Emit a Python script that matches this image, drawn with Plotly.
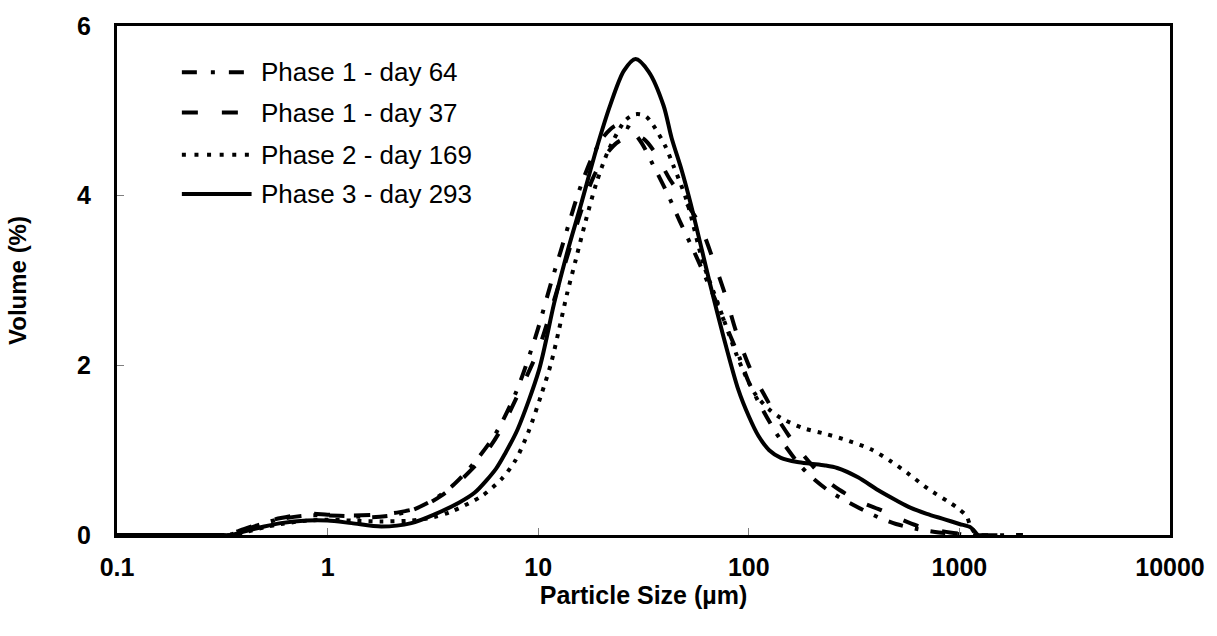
import plotly.graph_objects as go

# Particle size distributions (volume %, by size in µm)
size_p1_d64 = [0.1, 0.3, 0.35, 0.4, 0.5, 0.6, 0.8, 1.0, 1.3, 1.6, 2.0, 2.5, 3.2, 4.0, 5.0,
               6.3, 7.9, 9.75, 11.6, 12.8, 14.1, 15.6, 18, 20.5, 23.5, 27, 31, 35, 41, 47,
               55, 62, 70, 80, 90, 100, 118, 135, 148, 170, 195, 240, 290, 352, 420, 500,
               630, 800, 1000, 1100, 2000]
vol_p1_d64 = [0, 0, 0.01, 0.06, 0.14, 0.19, 0.23, 0.23, 0.22, 0.21, 0.23, 0.29, 0.42, 0.6, 0.86,
              1.2, 1.7, 2.35, 3.0, 3.35, 3.7, 4.05, 4.45, 4.7, 4.83, 4.8, 4.62, 4.37, 4.03, 3.7,
              3.34, 3.05, 2.75, 2.4, 2.1, 1.8, 1.45, 1.2, 1.06, 0.86, 0.70, 0.52, 0.40, 0.29, 0.2, 0.13,
              0.07, 0.03, 0.01, 0, 0]

size_p1_d37 = [0.1, 0.3, 0.35, 0.4, 0.5, 0.6, 0.8, 1.0, 1.3, 1.76, 2.2, 2.78, 3.5, 4.3, 5.3,
               6.5, 8, 10, 12, 14, 16, 18, 20.5, 23.5, 26.5, 29, 32, 36, 42, 50, 58.5, 67.6,
               78, 87, 102, 118, 135, 155, 174, 200, 230, 270, 340, 428, 500, 630, 900, 1200, 2000]
vol_p1_d37 = [0, 0, 0.02, 0.07, 0.15, 0.2, 0.25, 0.24, 0.23, 0.24, 0.27, 0.33, 0.47, 0.65, 0.88,
              1.2, 1.65, 2.18, 2.8, 3.35, 3.82, 4.18, 4.45, 4.62, 4.69, 4.71, 4.66, 4.5, 4.2, 3.93, 3.66, 3.25,
              2.8, 2.4, 1.95, 1.66, 1.4, 1.17, 1.0, 0.82, 0.66, 0.53, 0.39, 0.29, 0.21, 0.11, 0.03, 0, 0]

size_p2_d169 = [0.1, 0.3, 0.35, 0.4, 0.5, 0.6, 0.8, 1.0, 1.3, 1.8, 2.5, 3.2, 3.9, 5.4, 6.7,
                7.8, 9.0, 10.3, 11.5, 12.5, 13.7, 15.1, 16.8, 18.9, 21.6, 26, 29, 32.3, 35.2,
                40.2, 43.9, 50.6, 60.8, 71.6, 87, 96, 108, 125, 142, 181, 233, 298, 380, 472, 581,
                714, 889, 991, 1082, 1130, 1200]
vol_p2_d169 = [0, 0, 0.0, 0.03, 0.09, 0.13, 0.17, 0.18, 0.17, 0.16, 0.17, 0.21, 0.28, 0.46, 0.66,
               0.88, 1.22, 1.64, 2.02, 2.4, 2.84, 3.25, 3.7, 4.15, 4.54, 4.89, 4.96, 4.94, 4.83,
               4.58, 4.35, 3.95, 3.2, 2.72, 2.14, 1.89, 1.65, 1.48, 1.38, 1.26, 1.19, 1.11, 1.01, 0.87, 0.71,
               0.54, 0.39, 0.31, 0.22, 0.10, 0]

size_p3_d293 = [0.1, 0.3, 0.35, 0.4, 0.5, 0.6, 0.8, 1.0, 1.3, 1.8, 2.5, 3.2, 4.2, 5.0, 6.3, 7.0,
                8.0, 10.1, 11.9, 13.8, 15.9, 18.9, 22, 25.5, 29, 33.5, 39.4, 43, 48, 52.8, 60,
                65.6, 75.6, 89, 100, 111, 125, 142, 170, 197, 230, 263, 330, 410, 500, 588, 700,
                851, 1000, 1130, 1220]
vol_p3_d293 = [0, 0, 0.0, 0.04, 0.10, 0.14, 0.17, 0.17, 0.14, 0.10, 0.14, 0.24, 0.38, 0.50, 0.78, 0.97,
               1.25, 1.95, 2.73, 3.35, 3.88, 4.55, 5.07, 5.47, 5.61, 5.46, 5.06, 4.68, 4.3, 3.92, 3.35,
               2.95, 2.35, 1.72, 1.40, 1.17, 1.0, 0.91, 0.86, 0.84, 0.82, 0.79, 0.68, 0.53, 0.41, 0.32, 0.25,
               0.185, 0.13, 0.09, 0]

series_names = ["Phase 1 - day 64", "Phase 1 - day 37", "Phase 2 - day 169", "Phase 3 - day 293"]

x_tick_vals = [0.1, 1, 10, 100, 1000, 10000]
x_tick_text = ["0.1", "1", "10", "100", "1000", "10000"]
y_tick_vals = [0, 2, 4, 6]

FONT = "Liberation Sans, Arial, sans-serif"
dashes = ["15px,12px,4px,12px", "16px,24px", "4px,7px", "solid"]
legend_dashes = ["15px,14px,4px,14px", "16px,24px", "4px,8.6px", "solid"]

fig = go.Figure()
for name, xs, ys, dash in zip(series_names,
                              [size_p1_d64, size_p1_d37, size_p2_d169, size_p3_d293],
                              [vol_p1_d64, vol_p1_d37, vol_p2_d169, vol_p3_d293],
                              dashes):
    fig.add_trace(go.Scatter(
        x=xs, y=ys, name=name, mode="lines",
        line=dict(color="black", width=4, dash=dash, shape="spline", smoothing=0.8),
        showlegend=False,
    ))

# Hand-built legend in the upper-left corner of the plot
legend_rows_y = [0.909, 0.830, 0.747, 0.670]
shapes = []
annotations = []
for name, dash, yy in zip(series_names, legend_dashes, legend_rows_y):
    shapes.append(dict(type="line", xref="paper", yref="paper",
                       x0=0.0616, x1=0.1278, y0=yy, y1=yy,
                       line=dict(color="black", width=4, dash=dash)))
    annotations.append(dict(xref="paper", yref="paper", x=0.1345, y=yy,
                            text=name, showarrow=False, xanchor="left", yanchor="middle",
                            font=dict(family=FONT, size=26, color="black")))

axis_common = dict(
    showline=True, linewidth=3, linecolor="black", mirror=True,
    ticks="inside", ticklen=7, tickwidth=1, tickcolor="#7f7f7f",
    showgrid=False, zeroline=False,
    tickfont=dict(family=FONT, size=25, color="black", weight="bold"),
)

fig.update_layout(
    width=1217, height=636,
    margin=dict(l=117, r=44, t=17, b=101),
    paper_bgcolor="white", plot_bgcolor="white",
    shapes=shapes, annotations=annotations,
    xaxis=dict(type="log", range=[-1, 4], tickvals=x_tick_vals, ticktext=x_tick_text,
               ticklabelstandoff=8,
               title=dict(text="Particle Size (µm)", standoff=5,
                          font=dict(family=FONT, size=25, color="black", weight="bold")),
               **axis_common),
    yaxis=dict(range=[0, 6], tickvals=y_tick_vals, ticklabelstandoff=18,
               title=dict(text="Volume (%)", standoff=44,
                          font=dict(family=FONT, size=24, color="black", weight="bold")),
               **axis_common),
)

fig.write_html("out.html")
